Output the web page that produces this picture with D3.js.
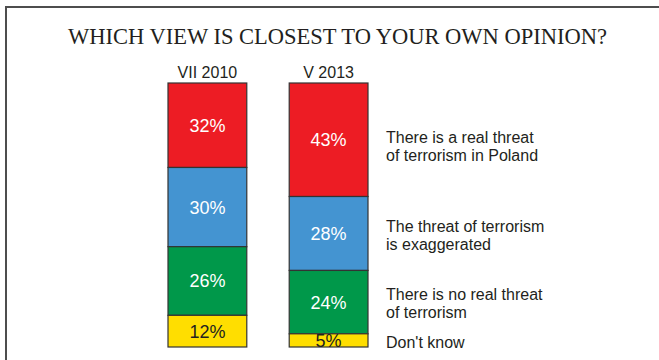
<!DOCTYPE html>
<html>
<head>
<meta charset="utf-8">
<script src="https://cdn.jsdelivr.net/npm/d3@7"></script>
<style>
  html, body { margin: 0; padding: 0; background: #fff; }
  svg { display: block; }
</style>
</head>
<body>
<svg id="chart" width="659" height="360"></svg>
<script>
// Survey waves (columns) and answer categories (stacked top to bottom)
const waves = ["VII 2010", "V 2013"];
const answers = [
  ["There is a real threat", "of terrorism in Poland"],
  ["The threat of terrorism", "is exaggerated"],
  ["There is no real threat", "of terrorism"],
  ["Don't know"]
];
const share2010 = [32, 30, 26, 12];
const share2013 = [43, 28, 24, 5];
const title = "WHICH VIEW IS CLOSEST TO YOUR OWN OPINION?";

const colors = ["#ED1C24", "#4494D1", "#00984A", "#FFDE00"];
const labelColors = ["#ffffff", "#ffffff", "#ffffff", "#231F20"];
// vertical nudge of each legend block relative to its segment centre
const legendNudge = [3, -1, -2.5, 7.5];

const svg = d3.select("#chart");

// frame: top and left rule
svg.append("path")
  .attr("d", "M6,360 V7 H659")
  .attr("fill", "none")
  .attr("stroke", "#4d4d4d")
  .attr("stroke-width", 2);

svg.append("text")
  .attr("x", 337.5)
  .attr("y", 44)
  .attr("text-anchor", "middle")
  .attr("font-family", "'Liberation Serif', 'Times New Roman', serif")
  .attr("font-size", 22.5)
  .attr("fill", "#231F20")
  .text(title);

const x = d3.scaleBand().domain(waves).range([168, 368]).paddingInner(0.35).paddingOuter(0);
const y = d3.scaleLinear().domain([0, 100]).range([347, 83]);

const series = [share2010, share2013];

function stackOf(values) {
  let acc = 100;
  return values.map((v, i) => {
    const top = acc;
    acc -= v;
    return { i, v, top, bottom: acc };
  });
}

waves.forEach((w, wi) => {
  const g = svg.append("g");
  const segs = stackOf(series[wi]);

  g.selectAll("rect")
    .data(segs)
    .join("rect")
    .attr("x", x(w))
    .attr("width", x.bandwidth())
    .attr("y", d => y(d.top))
    .attr("height", d => y(d.bottom) - y(d.top))
    .attr("fill", d => colors[d.i])
    .attr("stroke", "#333")
    .attr("stroke-width", 1.2);

  g.selectAll("text.val")
    .data(segs)
    .join("text")
    .attr("class", "val")
    .attr("x", x(w) + x.bandwidth() / 2)
    .attr("y", d => (y(d.top) + y(d.bottom)) / 2)
    .attr("dy", "0.36em")
    .attr("text-anchor", "middle")
    .attr("font-family", "Arial, 'Liberation Sans', sans-serif")
    .attr("font-size", 18)
    .attr("fill", d => labelColors[d.i])
    .text(d => d.v + "%");

  svg.append("text")
    .attr("x", x(w) + x.bandwidth() / 2)
    .attr("y", 78)
    .attr("text-anchor", "middle")
    .attr("font-family", "Arial, 'Liberation Sans', sans-serif")
    .attr("font-size", 16)
    .attr("fill", "#231F20")
    .text(w);
});

// category labels to the right of the latest wave
const last = stackOf(share2013);
const legend = svg.append("g");
answers.forEach((lines, i) => {
  const mid = (y(last[i].top) + y(last[i].bottom)) / 2;
  const t = legend.append("text")
    .attr("x", 386)
    .attr("y", mid + legendNudge[i])
    .attr("font-family", "Arial, 'Liberation Sans', sans-serif")
    .attr("font-size", 16)
    .attr("fill", "#231F20");
  lines.forEach((line, li) => {
    t.append("tspan")
      .attr("x", 386)
      .attr("dy", li === 0 ? 0 : 18)
      .text(line);
  });
});
</script>
</body>
</html>
